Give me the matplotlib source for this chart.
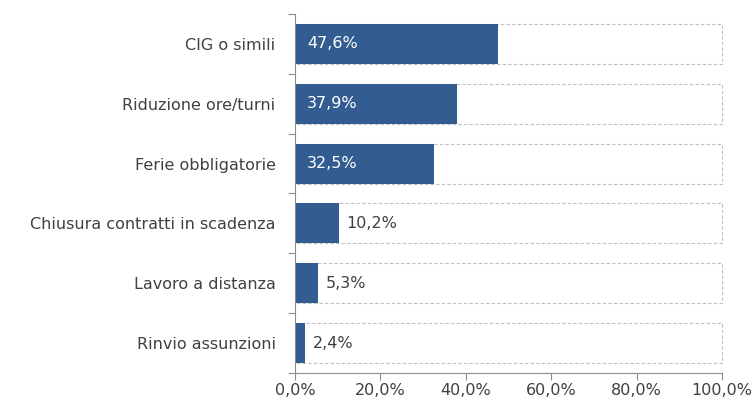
import matplotlib
matplotlib.use("Agg")
import matplotlib.pyplot as plt
from matplotlib.ticker import FixedLocator

categories = [
    "CIG o simili",
    "Riduzione ore/turni",
    "Ferie obbligatorie",
    "Chiusura contratti in scadenza",
    "Lavoro a distanza",
    "Rinvio assunzioni",
]
values = [47.6, 37.9, 32.5, 10.2, 5.3, 2.4]
x_ticks = [0, 20, 40, 60, 80, 100]
x_tick_labels = ["0,0%", "20,0%", "40,0%", "60,0%", "80,0%", "100,0%"]

bar_color = "#335C91"
text_color = "#404040"
axis_color = "#8C8C8C"

plt.rcParams["font.family"] = ["DejaVu Sans"]
fs = 11.5

fig = plt.figure(figsize=(7.55, 4.12), dpi=100)
ax = fig.add_axes([0.3907, 0.0947, 0.5656, 0.8714])

n = len(categories)
ypos = list(range(n))
bar_h = 0.67

# full-scale dashed frames behind each bar
ax.barh(ypos, [100] * n, height=bar_h, left=0, facecolor="none",
        edgecolor="#BFBFBF", linestyle=(0, (3, 2)), linewidth=0.8,
        zorder=1, clip_on=False)
ax.barh(ypos, values, height=bar_h, color=bar_color, zorder=2)

for y, v in zip(ypos, values):
    label = f"{v:.1f}%".replace(".", ",")
    if v > 20:
        ax.text(2.8, y, label, color="white", va="center", ha="left",
                fontsize=fs, zorder=3)
    else:
        ax.text(v + 1.8, y, label, color=text_color, va="center", ha="left",
                fontsize=fs, zorder=3)

ax.set_xlim(0, 100)
ax.set_ylim(n - 0.5, -0.5)

ax.set_xticks(x_ticks)
ax.set_xticklabels(x_tick_labels, fontsize=fs, color=text_color)
ax.set_yticks(ypos)
ax.set_yticklabels(categories, fontsize=fs, color=text_color)
ax.tick_params(axis="y", which="major", length=0, pad=14)
ax.yaxis.set_minor_locator(FixedLocator([i - 0.5 for i in range(n + 1)]))
ax.tick_params(axis="y", which="minor", length=5, color=axis_color, width=0.8)
ax.tick_params(axis="x", length=5, color=axis_color, width=0.8, pad=2)

for side in ("top", "right"):
    ax.spines[side].set_visible(False)
for side in ("left", "bottom"):
    ax.spines[side].set_color(axis_color)
    ax.spines[side].set_linewidth(0.8)

fig.savefig("out.png", dpi=100, facecolor="white")
